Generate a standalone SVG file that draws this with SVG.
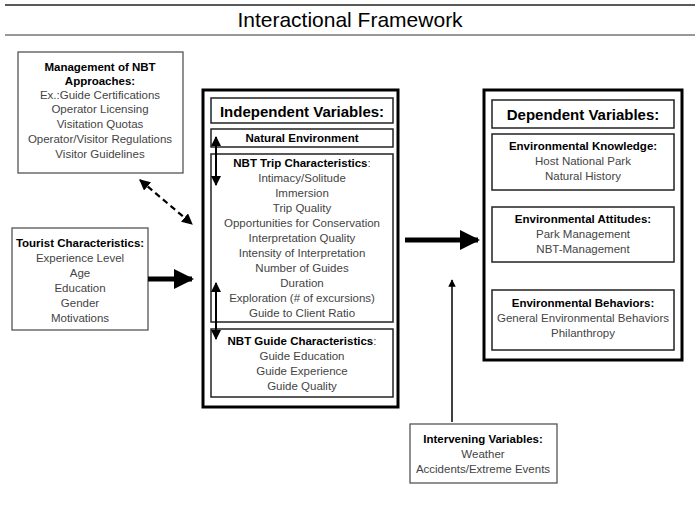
<svg xmlns="http://www.w3.org/2000/svg" width="700" height="510" viewBox="0 0 700 510">
<style>
text{font-family:"Liberation Sans",Arial,sans-serif;text-anchor:middle;fill:#444;font-size:11.5px}
.h{font-weight:bold;fill:#000}
.box{fill:#fff;stroke:#555;stroke-width:1.3}
.thick{fill:#fff;stroke:#000;stroke-width:3}
.in{fill:#fff;stroke:#222;stroke-width:1.5}
</style>
<defs>
<marker id="a" viewBox="0 0 10 10" refX="9" refY="5" markerWidth="5" markerHeight="5" orient="auto-start-reverse"><path d="M0,0L10,5L0,10z" fill="#000"/></marker>
<marker id="b" viewBox="0 0 10 10" refX="9" refY="5" markerWidth="4" markerHeight="4" orient="auto-start-reverse"><path d="M0,0L10,5L0,10z" fill="#000"/></marker>
</defs>
<rect width="700" height="510" fill="#fff"/>
<line x1="5" y1="5" x2="695" y2="5" stroke="#222" stroke-width="1.5"/>
<line x1="5" y1="35" x2="695" y2="35" stroke="#333" stroke-width="1.2"/>
<text x="350" y="27" style="font-size:21px;fill:#000">Interactional Framework</text>

<g id="mgmt"><rect class="box" x="18" y="52" width="165" height="121"/>
<text class="h" x="100" y="71">Management of NBT</text><text class="h" x="100" y="85">Approaches:</text>
<text x="100" y="99">Ex.:Guide Certifications</text><text x="100" y="113">Operator Licensing</text><text x="100" y="128">Visitation Quotas</text><text x="100" y="143">Operator/Visitor Regulations</text><text x="100" y="158">Visitor Guidelines</text></g>

<g id="tourist"><rect class="box" x="12" y="228" width="136" height="102"/>
<text class="h" x="80" y="247">Tourist Characteristics:</text>
<text x="80" y="262">Experience Level</text><text x="80" y="277">Age</text><text x="80" y="292">Education</text><text x="80" y="307">Gender</text><text x="80" y="322">Motivations</text></g>

<g id="independent"><rect class="thick" x="203" y="90" width="195" height="317"/>
<rect class="in" x="211" y="98" width="182" height="25"/><text class="h" x="302" y="117" style="font-size:15px">Independent Variables:</text>
<rect class="in" x="211" y="129" width="182" height="18"/><text class="h" x="302" y="142">Natural Environment</text>
<rect class="in" x="211" y="154" width="182" height="168"/>
<text class="h" x="302" y="167">NBT Trip Characteristics<tspan style="font-weight:normal;fill:#444">:</tspan></text>
<text x="302" y="182">Intimacy/Solitude</text><text x="302" y="197">Immersion</text><text x="302" y="212">Trip Quality</text><text x="302" y="227">Opportunities for Conservation</text><text x="302" y="242">Interpretation Quality</text><text x="302" y="257">Intensity of Interpretation</text><text x="302" y="272">Number of Guides</text><text x="302" y="287">Duration</text><text x="302" y="302">Exploration (# of excursions)</text><text x="302" y="317">Guide to Client Ratio</text>
<rect class="in" x="211" y="329" width="182" height="68"/>
<text class="h" x="302" y="345">NBT Guide Characteristics<tspan style="font-weight:normal;fill:#444">:</tspan></text>
<text x="302" y="360">Guide Education</text><text x="302" y="375">Guide Experience</text><text x="302" y="390">Guide Quality</text></g>

<g id="dependent"><rect class="thick" x="484" y="90" width="198" height="270"/>
<rect class="in" x="492" y="100" width="182" height="28"/><text class="h" x="583" y="120" style="font-size:15px">Dependent Variables:</text>
<rect class="in" x="492" y="134" width="182" height="56"/><text class="h" x="583" y="150">Environmental Knowledge:</text><text x="583" y="165">Host National Park</text><text x="583" y="180">Natural History</text>
<rect class="in" x="492" y="207" width="182" height="55"/><text class="h" x="583" y="223">Environmental Attitudes:</text><text x="583" y="238">Park Management</text><text x="583" y="253">NBT-Management</text>
<rect class="in" x="492" y="290" width="182" height="60"/><text class="h" x="583" y="307">Environmental Behaviors:</text><text x="583" y="322">General Environmental Behaviors</text><text x="583" y="337">Philanthropy</text></g>

<g id="intervening"><rect class="box" x="410" y="424" width="147" height="59"/>
<text class="h" x="483" y="443">Intervening Variables:</text><text x="483" y="458">Weather</text><text x="483" y="473">Accidents/Extreme Events</text></g>

<g id="connectors" stroke="#000" fill="none">
<line x1="148" y1="279" x2="192" y2="279" stroke-width="5" marker-end="url(#b)"/>
<line x1="405" y1="240" x2="478" y2="240" stroke-width="5" marker-end="url(#b)"/>
<line x1="452" y1="422" x2="452" y2="280" stroke-width="1.5" marker-end="url(#a)"/>
<line x1="140" y1="180" x2="192" y2="224" stroke-width="2.2" stroke-dasharray="6,4" marker-start="url(#a)" marker-end="url(#a)"/>
<line x1="216" y1="137" x2="216" y2="185" stroke-width="2" marker-start="url(#a)" marker-end="url(#a)"/>
<line x1="216" y1="283" x2="216" y2="339" stroke-width="2" marker-start="url(#a)" marker-end="url(#a)"/>
</g>
</svg>
